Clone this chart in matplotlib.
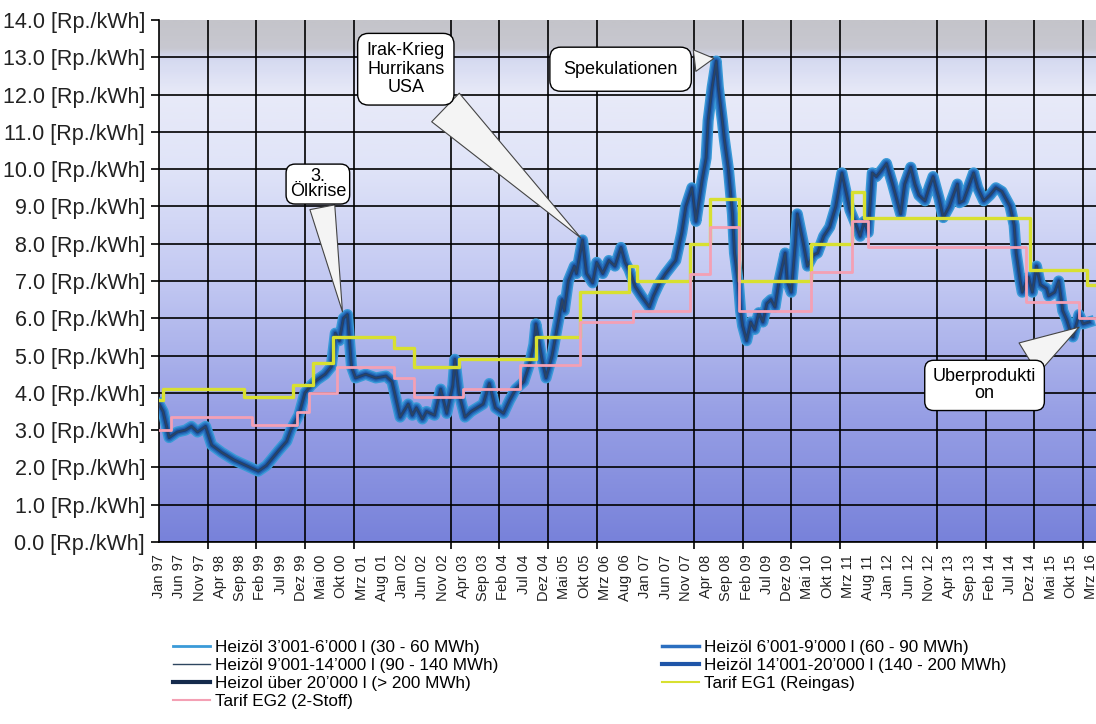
import matplotlib.pyplot as plt
import numpy as np
from matplotlib.colors import LinearSegmentedColormap
from matplotlib.lines import Line2D

plt.rcParams['font.family'] = ['Liberation Sans', 'DejaVu Sans']

# Monate ab Jan 97 (0 = Jan 97)
x_labels = ['Jan 97', 'Jun 97', 'Nov 97', 'Apr 98', 'Sep 98', 'Feb 99', 'Jul 99', 'Dez 99',
            'Mai 00', 'Okt 00', 'Mrz 01', 'Aug 01', 'Jan 02', 'Jun 02', 'Nov 02', 'Apr 03',
            'Sep 03', 'Feb 04', 'Jul 04', 'Dez 04', 'Mai 05', 'Okt 05', 'Mrz 06', 'Aug 06',
            'Jan 07', 'Jun 07', 'Nov 07', 'Apr 08', 'Sep 08', 'Feb 09', 'Jul 09', 'Dez 09',
            'Mai 10', 'Okt 10', 'Mrz 11', 'Aug 11', 'Jan 12', 'Jun 12', 'Nov 12', 'Apr 13',
            'Sep 13', 'Feb 14', 'Jul 14', 'Dez 14', 'Mai 15', 'Okt 15', 'Mrz 16']

# Heizoel (alle Mengenklassen liegen praktisch aufeinander)
oel_monat = [0, 1, 2.5, 4.5, 6.5, 8, 9.5, 11.5, 13, 15.5,
             18.5, 21.5, 24.5, 26.5, 29.5, 31.5, 32.5, 34.5, 36, 37.5,
             39, 41, 42.5, 43.5, 44.5, 45.5, 46.5, 47.5, 48.5, 51,
             53.5, 56, 57.5, 59.5, 61.5, 62.5, 63.5, 65, 66, 68,
             69.5, 71, 72.5, 73, 74, 75.5, 77, 78.5, 80, 81.5,
             83, 85, 86.5, 88, 90, 91.5, 92.5, 93, 94.5, 95.5,
             97, 98, 99.5, 100, 101, 102.5, 103, 104.5, 105.5, 107,
             108, 109.5, 111, 112.5, 114, 115, 116, 117.5, 119, 121,
             122, 123.5, 125, 127.5, 129, 130, 131.5, 132.5, 134, 135,
             135.5, 136.5, 137.5, 138, 139, 139.5, 140.5, 141.5, 142, 143,
             143.5, 144, 145, 146, 147, 148, 149, 150, 151, 152,
             153, 154.5, 155, 156, 157, 157.5, 159, 160, 161.5, 162.5,
             164, 165.5, 167, 168, 168.5, 169.5, 170.5, 172, 173, 174,
             175, 176, 177, 178.5, 179.5, 181, 182, 183, 184, 185.5,
             186.5, 187.5, 189, 190, 191, 192.5, 193.5, 195, 196, 197,
             197.5, 198.5, 200, 201, 202, 203.5, 205, 206.5, 208, 210,
             211, 211.5, 212.5, 213, 214.5, 215.5, 216.5, 217.5, 219, 219.5,
             221, 222, 223, 224, 225, 225.5, 226, 227, 228, 229.5]
oel_preis = [3.7, 3.5, 2.8, 2.95, 3.0, 3.1, 2.95, 3.1, 2.6, 2.4,
             2.2, 2.05, 1.9, 2.05, 2.45, 2.7, 3.0, 3.4, 4.0, 4.2,
             4.35, 4.5, 4.7, 5.6, 5.4, 6.0, 6.1, 4.7, 4.4, 4.5,
             4.4, 4.45, 4.3, 3.35, 3.7, 3.4, 3.6, 3.3, 3.5, 3.4,
             4.1, 3.45, 4.2, 4.9, 4.0, 3.35, 3.5, 3.6, 3.7, 4.25,
             3.6, 3.45, 3.8, 4.1, 4.3, 4.8, 5.3, 5.85, 4.9, 4.4,
             5.0, 5.6, 6.5, 6.2, 7.0, 7.4, 7.2, 8.1, 7.2, 6.95,
             7.5, 7.2, 7.55, 7.4, 7.9, 7.5, 7.3, 6.85, 6.6, 6.3,
             6.6, 6.95, 7.2, 7.55, 8.3, 9.0, 9.5, 8.6, 9.7, 10.3,
             11.3, 12.2, 12.9, 12.2, 11.3, 10.8, 10.0, 8.8, 7.75, 6.9,
             6.2, 5.8, 5.4, 5.9, 5.7, 6.15, 5.9, 6.4, 6.5, 6.3,
             7.0, 7.75, 7.0, 6.7, 8.0, 8.8, 8.0, 7.4, 7.7, 7.75,
             8.2, 8.45, 9.0, 9.6, 9.9, 9.4, 8.9, 8.5, 8.2, 8.6,
             8.3, 9.9, 9.8, 10.0, 10.15, 9.6, 9.2, 8.8, 9.6, 10.05,
             9.6, 9.3, 9.15, 9.5, 9.8, 9.2, 8.7, 9.0, 9.3, 9.6,
             9.1, 9.15, 9.6, 9.9, 9.5, 9.15, 9.3, 9.5, 9.4, 9.0,
             8.5, 7.75, 7.0, 6.7, 7.1, 6.7, 7.4, 6.9, 6.8, 6.6,
             6.7, 7.0, 6.2, 5.95, 5.6, 5.5, 5.7, 6.1, 5.85, 5.9]

# Tarife (Stufen)
eg1_monat = [0, 1, 21, 33, 38, 43, 58, 63, 74, 93, 104, 116, 118, 131, 136, 143, 161, 171, 174, 215, 229, 231.2]
eg1_preis = [3.8, 4.1, 3.9, 4.2, 4.8, 5.5, 5.2, 4.7, 4.9, 5.5, 6.7, 7.4, 7.0, 8.0, 9.2, 7.0, 8.0, 9.4, 8.7, 7.3, 6.9, 6.9]
eg2_monat = [0, 3, 23, 34, 37, 44, 58, 63, 75, 89, 104, 117, 131, 136, 143, 161, 171, 175, 214, 227, 231.2]
eg2_preis = [3.0, 3.35, 3.15, 3.5, 4.0, 4.7, 4.4, 3.9, 4.1, 4.75, 5.9, 6.2, 7.2, 8.45, 6.2, 7.25, 8.6, 7.9, 6.45, 6.0, 6.0]

serien = ['Heizöl 3’001-6’000 l (30 - 60 MWh)', 'Heizöl 6’001-9’000 l (60 - 90 MWh)',
          'Heizöl 9’001-14’000 l (90 - 140 MWh)', 'Heizöl 14’001-20’000 l (140 - 200 MWh)',
          'Heizol über 20’000 l (> 200 MWh)', 'Tarif EG1 (Reingas)', 'Tarif EG2 (2-Stoff)']

xmax = 231.2

fig = plt.figure(figsize=(10.96, 7.24), dpi=100)
ax = fig.add_axes([159 / 1096, 182 / 724, 1 - 159 / 1096, 522 / 724])

# Hintergrund-Verlauf
cmap = LinearSegmentedColormap.from_list('bg', [
    (0.0, (120/255, 130/255, 218/255)),
    (0.25, (152/255, 160/255, 229/255)),
    (0.5, (194/255, 200/255, 242/255)),
    (0.72, (224/255, 228/255, 248/255)),
    (0.86, (232/255, 234/255, 248/255)),
    (0.93, (212/255, 217/255, 240/255)),
    (0.95, (200/255, 200/255, 208/255)),
    (1.0, (196/255, 196/255, 202/255))])
ax.imshow(np.linspace(0, 1, 300).reshape(-1, 1), extent=[0, xmax, 0, 14], aspect='auto',
          cmap=cmap, origin='lower', zorder=0)

# Heizoel-Linien
ax.plot(oel_monat, oel_preis, color='#3a9ad8', lw=8, zorder=3, solid_joinstyle='round')
ax.plot(oel_monat, oel_preis, color='#2b78c4', lw=6, zorder=3, solid_joinstyle='round')
ax.plot(oel_monat, oel_preis, color='#1f5fae', lw=4, zorder=3, solid_joinstyle='round')
ax.plot(oel_monat, oel_preis, color='#1b3f78', lw=2.2, zorder=3, solid_joinstyle='round')
ax.plot(oel_monat, oel_preis, color='#2e4660', lw=0.8, zorder=3)

# Tarife
ax.step(eg1_monat, eg1_preis, where='post', color='#d8e030', lw=2.4, zorder=4)
ax.step(eg2_monat, eg2_preis, where='post', color='#f4a0b4', lw=2.0, zorder=4)

ax.set_xlim(0, xmax)
ax.set_ylim(0, 14)

ax.set_yticks(np.arange(0, 15))
ax.set_yticklabels(['%.1f [Rp./kWh]' % v for v in range(15)])
ax.set_xticks(np.arange(0, 5 * len(x_labels), 5))
ax.set_xticklabels(x_labels, rotation=90)
ax.set_xticks(np.arange(0, 229, 12), minor=True)

ax.tick_params(axis='y', labelsize=15.5, length=6, width=1.2, pad=4, colors='black', labelcolor='#222222')
ax.tick_params(axis='x', which='major', labelsize=10.5, length=0, pad=9, labelcolor='#222222')
ax.tick_params(axis='x', which='minor', length=5, width=1.2, color='black')

ax.grid(which='minor', axis='x', color='black', lw=1.2, zorder=2)
ax.grid(which='major', axis='y', color='black', lw=1.2, zorder=2)
ax.get_ygridlines()[-1].set_visible(False)
ax.set_axisbelow(False)
for s in ['top', 'right']:
    ax.spines[s].set_visible(False)
for s in ['left', 'bottom']:
    ax.spines[s].set_linewidth(1.2)

# Kommentare
box = dict(boxstyle='round,pad=0.35,rounding_size=0.5', fc='white', ec='black', lw=1)
wedge = dict(fc='#f4f4f4', ec='#444444', lw=0.8)
ax.annotate('Irak-Krieg\nHurrikans\nUSA', xy=(104.6, 8.1), xytext=(60.9, 12.68),
            ha='center', va='center', fontsize=13, linespacing=1.1,
            bbox=dict(box, boxstyle='round,pad=0.5,rounding_size=0.6'), zorder=6,
            arrowprops=dict(wedge, arrowstyle='wedge,tail_width=2.2'))
ax.annotate('Spekulationen', xy=(137.6, 12.98), xytext=(113.9, 12.68),
            ha='center', va='center', fontsize=13,
            bbox=dict(box, boxstyle='round,pad=0.75,rounding_size=0.6'), zorder=6,
            arrowprops=dict(wedge, arrowstyle='wedge,tail_width=1.2'))
ax.annotate('3.\nÖlkrise', xy=(45.4, 6.1), xytext=(39.2, 9.6),
            ha='center', va='center', fontsize=13, linespacing=0.9,
            bbox=dict(box, boxstyle='round,pad=0.2,rounding_size=0.5'), zorder=6,
            arrowprops=dict(wedge, arrowstyle='wedge,tail_width=1.4'))
ax.annotate('Uberprodukti\non', xy=(227.6, 5.8), xytext=(203.7, 4.2),
            ha='center', va='center', fontsize=13, linespacing=1.0,
            bbox=dict(box, boxstyle='round,pad=0.45,rounding_size=0.5'), zorder=6,
            arrowprops=dict(wedge, arrowstyle='wedge,tail_width=2.0'))

# Legende (zeilenweise wie im Original)
h = [Line2D([], [], color='#3a9ad8', lw=2),
     Line2D([], [], color='#2b6fc0', lw=2.5),
     Line2D([], [], color='#2e4660', lw=1),
     Line2D([], [], color='#1f55a8', lw=3),
     Line2D([], [], color='#142a4c', lw=3),
     Line2D([], [], color='#d8e030', lw=1.5),
     Line2D([], [], color='#f4a0b4', lw=1.5)]
leg_kw = dict(frameon=False, fontsize=12.3, borderpad=0, handlelength=2.2, handletextpad=0.3,
              labelspacing=0.18, loc='upper left')
fig.legend([h[0], h[2], h[4], h[6]], [serien[0], serien[2], serien[4], serien[6]],
           bbox_to_anchor=(164 / 1096, 1 - 631 / 724), **leg_kw)
fig.legend([h[1], h[3], h[5]], [serien[1], serien[3], serien[5]],
           bbox_to_anchor=(653 / 1096, 1 - 631 / 724), **leg_kw)

fig.savefig('out.png', dpi=100)
